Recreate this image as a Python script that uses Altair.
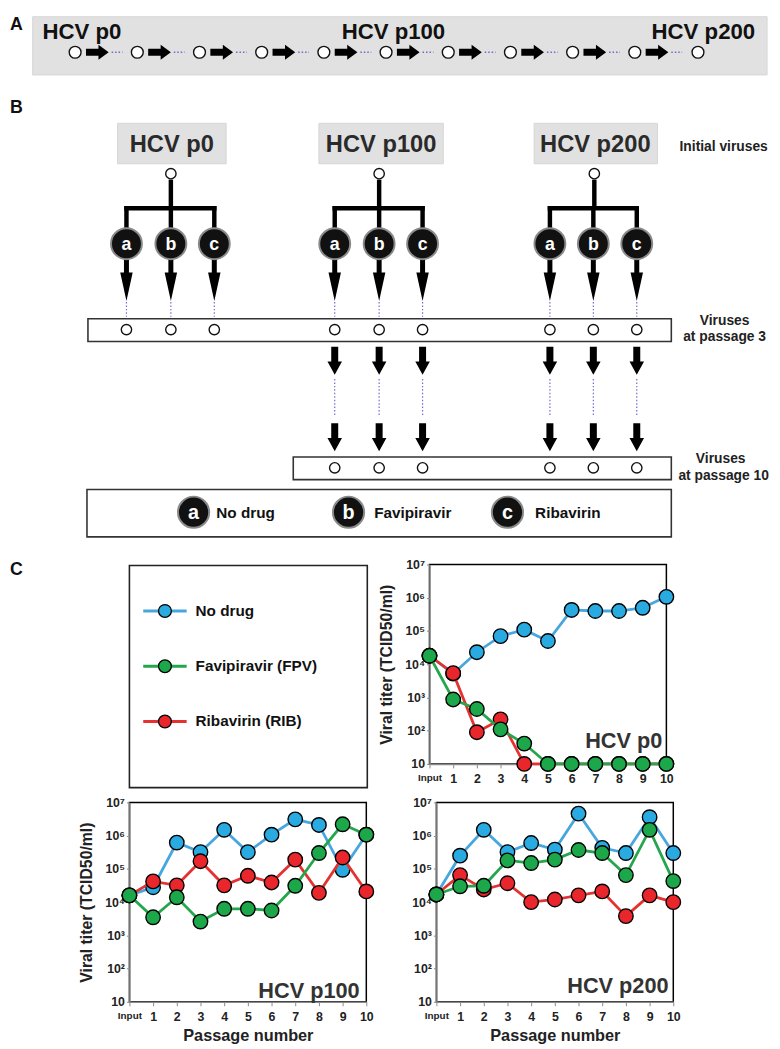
import altair as alt
import pandas as pd

FONT = "Liberation Sans"

# ---------------- Panel C values ----------------
PASSAGES = [0, 1, 2, 3, 4, 5, 6, 7, 8, 9, 10]

P0_NODRUG = [1.8e4, 5.2e3, 2.3e4, 7.0e4, 1.1e5, 5.0e4, 4.3e5, 4.0e5, 4.0e5, 5.0e5, 1.07e6]
P0_FPV = [1.8e4, 870, 450, 110, 41, 10, 10, 10, 10, 10, 10]
P0_RIB = [1.8e4, 5.4e3, 90, 220, 10, 10, 10, 10, 10, 10, 10]

P100_NODRUG = [1.6e4, 2.8e4, 6.2e5, 3.2e5, 1.5e6, 3.2e5, 1.07e6, 3.1e6, 2.1e6, 9.4e4, 1.07e6]
P100_FPV = [1.6e4, 3.5e3, 1.4e4, 2.6e3, 6.3e3, 6.3e3, 5.6e3, 3.1e4, 3.0e5, 2.2e6, 1.07e6]
P100_RIB = [1.6e4, 4.2e4, 3.2e4, 1.7e5, 3.2e4, 6.2e4, 3.9e4, 1.9e5, 1.9e4, 2.2e5, 2.1e4]

P200_NODRUG = [1.7e4, 2.5e5, 1.5e6, 3.2e5, 6.0e5, 3.8e5, 4.6e6, 4.3e5, 3.0e5, 3.6e6, 3.0e5]
P200_FPV = [1.7e4, 3.0e4, 3.1e4, 1.8e5, 1.5e5, 1.9e5, 3.7e5, 3.0e5, 6.5e4, 1.5e6, 4.3e4]
P200_RIB = [1.7e4, 6.5e4, 2.4e4, 3.7e4, 1.0e4, 1.2e4, 1.6e4, 2.1e4, 3.8e3, 1.6e4, 1.0e4]

SERIES_NAMES = ["No drug", "Ribavirin (RIB)", "Favipiravir (FPV)"]
LEGEND_ORDER = ["No drug", "Favipiravir (FPV)", "Ribavirin (RIB)"]
LINE_COLORS = {"No drug": "#47A6DD", "Favipiravir (FPV)": "#25A64D", "Ribavirin (RIB)": "#E3322F"}
FILL_COLORS = {"No drug": "#29ABE2", "Favipiravir (FPV)": "#1CA84A", "Ribavirin (RIB)": "#E8262B"}

PLOT_NAMES = ["HCV p0", "HCV p100", "HCV p200"]
PLOT_LABEL_X = [9.83, 9.72, 9.8]
PLOT_LABEL_Y = [50, 21, 30]
Y_TICKS = [10, 100, 1e3, 1e4, 1e5, 1e6, 1e7]

# ---------------- Diagram (panels A and B), figure pixel units ----------------
GRAY_X0 = [32, 118, 322, 540]
GRAY_X1 = [776, 228, 448, 665]
GRAY_Y0 = [8, 116, 116, 116]
GRAY_Y1 = [67, 157, 157, 157]

BOX_X0 = [88, 296, 87]
BOX_X1 = [679, 679, 679]
BOX_Y0 = [314, 454, 487]
BOX_Y1 = [337, 477, 535]

A_NODE_X = [75, 138, 201, 264, 327, 390, 453, 516, 579, 642, 706]
A_NODE_Y = 44
A_LABELS = ["HCV p0", "HCV p100", "HCV p200"]
A_LABEL_X = [42, 345, 659]

B_GROUP_X = [172, 383, 601]
B_BRANCH_X = [127, 172, 216, 338, 383, 427, 556, 600, 644]
B_LETTERS = ["a", "b", "c"] * 3
LATE_BRANCH_X = [338, 383, 427, 556, 600, 644]

LEG_CIRCLE_X = [195, 352, 513]
LEG_TEXT_X = [218, 378, 541]
LEG_LETTERS = ["a", "b", "c"]
LEG_TEXTS = ["No drug", "Favipiravir", "Ribavirin"]

SIDE_TEXT = ["Initial viruses", "Viruses", "at passage 3", "Viruses", "at passage 10"]
SIDE_X = [732, 733, 733, 729, 732]
SIDE_Y = [140, 316, 333, 456, 473]

PANEL_LETTERS = ["A", "B"]
PANEL_LETTER_Y = [16, 101]

ARROW_RIGHT = "M-1,-0.3L0.1,-0.3L0.1,-0.65L1,0L0.1,0.65L0.1,0.3L-1,0.3Z"
ARROW_DOWN_LONG = "M-0.12,-1L0.12,-1L0.12,-0.38L0.3,-0.38L0,1L-0.3,-0.38L-0.12,-0.38Z"
ARROW_DOWN_SHORT = "M-0.25,-1L0.25,-1L0.25,0.05L0.52,0.05L0,1L-0.52,0.05L-0.25,0.05Z"

DOT_COLOR = "#6a6ad2"

# ---------------- helpers for the pixel-unit diagram charts ----------------
def make_px(x_dom, y_dom):
    xs = alt.Scale(domain=x_dom, nice=False, zero=False)
    ys = alt.Scale(domain=y_dom, nice=False, zero=False, reverse=True)

    def X(f):
        return alt.X(f, type="quantitative", scale=xs, axis=None)

    def Y(f):
        return alt.Y(f, type="quantitative", scale=ys, axis=None)

    return X, Y


DX, DY = make_px([8, 780], [8, 554])

layers = []

gray_df = pd.DataFrame({"x0": GRAY_X0, "x1": GRAY_X1, "y0": GRAY_Y0, "y1": GRAY_Y1})
layers.append(alt.Chart(gray_df).mark_rect(fill="#e1e1e1", stroke="#d6d6d6", strokeWidth=1).encode(
    x=DX("x0"), x2="x1", y=DY("y0"), y2="y1"))

box_df = pd.DataFrame({"x0": BOX_X0, "x1": BOX_X1, "y0": BOX_Y0, "y1": BOX_Y1})
layers.append(alt.Chart(box_df).mark_rect(fill="white", stroke="#333", strokeWidth=1.6).encode(
    x=DX("x0"), x2="x1", y=DY("y0"), y2="y1"))

a_dot_df = pd.DataFrame({"x0": [x + 37 for x in A_NODE_X[:-1]], "x1": [x + 48 for x in A_NODE_X[:-1]],
                         "y": [A_NODE_Y] * (len(A_NODE_X) - 1)})
layers.append(alt.Chart(a_dot_df).mark_rule(color=DOT_COLOR, strokeWidth=1.4, strokeDash=[1.5, 2]).encode(
    x=DX("x0"), x2="x1", y=DY("y")))

b_dot_df = pd.DataFrame({
    "x": B_BRANCH_X + LATE_BRANCH_X,
    "y0": [297] * len(B_BRANCH_X) + [375] * len(LATE_BRANCH_X),
    "y1": [312] * len(B_BRANCH_X) + [412] * len(LATE_BRANCH_X)})
layers.append(alt.Chart(b_dot_df).mark_rule(color=DOT_COLOR, strokeWidth=1.2, strokeDash=[1.5, 2]).encode(
    x=DX("x"), y=DY("y0"), y2="y1"))

stem_df = pd.DataFrame({"x": B_GROUP_X, "y0": [173] * 3, "y1": [202] * 3})
layers.append(alt.Chart(stem_df).mark_rule(color="black", strokeWidth=4.5, strokeCap="butt").encode(
    x=DX("x"), y=DY("y0"), y2="y1"))
bar_df = pd.DataFrame({"x0": B_BRANCH_X[0::3], "x1": B_BRANCH_X[2::3], "y": [202] * 3})
layers.append(alt.Chart(bar_df).mark_rule(color="black", strokeWidth=4.5, strokeCap="square").encode(
    x=DX("x0"), x2="x1", y=DY("y")))
drop_df = pd.DataFrame({"x": B_BRANCH_X, "y0": [202] * 9, "y1": [226] * 9})
layers.append(alt.Chart(drop_df).mark_rule(color="black", strokeWidth=4.5, strokeCap="square").encode(
    x=DX("x"), y=DY("y0"), y2="y1"))

a_arrow_df = pd.DataFrame({"x": [x + 22.5 for x in A_NODE_X[:-1]], "y": [A_NODE_Y] * (len(A_NODE_X) - 1)})
layers.append(alt.Chart(a_arrow_df).mark_point(shape=ARROW_RIGHT, size=529, filled=True, fill="black",
                                               strokeWidth=0, opacity=1).encode(x=DX("x"), y=DY("y")))
b_arrow_df = pd.DataFrame({"x": B_BRANCH_X, "y": [275] * 9})
layers.append(alt.Chart(b_arrow_df).mark_point(shape=ARROW_DOWN_LONG, size=1764, filled=True, fill="black",
                                               strokeWidth=0, opacity=1).encode(x=DX("x"), y=DY("y")))
late_arrow_df = pd.DataFrame({"x": LATE_BRANCH_X * 2, "y": [356.5] * 6 + [434] * 6})
layers.append(alt.Chart(late_arrow_df).mark_point(shape=ARROW_DOWN_SHORT, size=800, filled=True, fill="black",
                                                  strokeWidth=0, opacity=1).encode(x=DX("x"), y=DY("y")))

open_df = pd.DataFrame({
    "x": A_NODE_X + B_GROUP_X + B_BRANCH_X + LATE_BRANCH_X,
    "y": [A_NODE_Y] * len(A_NODE_X) + [167] * 3 + [325] * 9 + [465] * 6,
    "sz": [144] * len(A_NODE_X) + [110] * (3 + 9 + 6)})
layers.append(alt.Chart(open_df).mark_point(shape="circle", filled=True, fill="white", stroke="#111",
                                            strokeWidth=1.4, opacity=1).encode(
    x=DX("x"), y=DY("y"), size=alt.Size("sz:Q", scale=None, legend=None)))

drug_df = pd.DataFrame({"x": B_BRANCH_X + LEG_CIRCLE_X, "y": [238] * 9 + [510] * 3,
                        "sz": [980] * 9 + [1000] * 3})
layers.append(alt.Chart(drug_df).mark_point(shape="circle", filled=True, fill="#111", stroke="#8a8a8a",
                                            strokeWidth=2, opacity=1).encode(
    x=DX("x"), y=DY("y"), size=alt.Size("sz:Q", scale=None, legend=None)))

letter_df = pd.DataFrame({"x": B_BRANCH_X, "y": [239] * 9, "t": B_LETTERS})
layers.append(alt.Chart(letter_df).mark_text(font=FONT, fontSize=18, fontWeight="bold", color="white",
                                             align="center", baseline="middle").encode(
    x=DX("x"), y=DY("y"), text="t:N"))
leg_letter_df = pd.DataFrame({"x": LEG_CIRCLE_X, "y": [511] * 3, "t": LEG_LETTERS})
layers.append(alt.Chart(leg_letter_df).mark_text(font=FONT, fontSize=20, fontWeight="bold", color="white",
                                                 align="center", baseline="middle").encode(
    x=DX("x"), y=DY("y"), text="t:N"))
leg_text_df = pd.DataFrame({"x": LEG_TEXT_X, "y": [511] * 3, "t": LEG_TEXTS})
layers.append(alt.Chart(leg_text_df).mark_text(font=FONT, fontSize=15.5, fontWeight="bold", color="#111",
                                               align="left", baseline="middle").encode(
    x=DX("x"), y=DY("y"), text="t:N"))
a_lab_df = pd.DataFrame({"x": A_LABEL_X, "y": [24] * 3, "t": A_LABELS})
layers.append(alt.Chart(a_lab_df).mark_text(font=FONT, fontSize=22.5, fontWeight="bold", color="#111",
                                            align="left", baseline="middle").encode(
    x=DX("x"), y=DY("y"), text="t:N"))
b_lab_df = pd.DataFrame({"x": [173, 385, 602], "y": [138] * 3, "t": A_LABELS})
layers.append(alt.Chart(b_lab_df).mark_text(font=FONT, fontSize=24, fontWeight="bold", color="#2a2a2a",
                                            align="center", baseline="middle").encode(
    x=DX("x"), y=DY("y"), text="t:N"))
side_df = pd.DataFrame({"x": SIDE_X, "y": SIDE_Y, "t": SIDE_TEXT})
layers.append(alt.Chart(side_df).mark_text(font=FONT, fontSize=14, fontWeight="bold", color="#222",
                                           align="center", baseline="middle").encode(
    x=DX("x"), y=DY("y"), text="t:N"))
panel_df = pd.DataFrame({"x": [9, 9], "y": PANEL_LETTER_Y, "t": PANEL_LETTERS})
layers.append(alt.Chart(panel_df).mark_text(font=FONT, fontSize=18, fontWeight="bold", color="#111",
                                            align="left", baseline="middle").encode(
    x=DX("x"), y=DY("y"), text="t:N"))

diagram = alt.layer(*layers).properties(width=772, height=546)

# ---------------- Panel C legend box ----------------
LX, LY = make_px([8, 376], [564, 796])
LEG_Y = [611, 667, 723]
key_layers = []
key_layers.append(alt.Chart(pd.DataFrame({"x0": [130], "x1": [371], "y0": [565], "y1": [790]})).mark_rect(
    fill="white", stroke="#222", strokeWidth=1.6).encode(x=LX("x0"), x2="x1", y=LY("y0"), y2="y1"))
key_df = pd.DataFrame({"s": LEGEND_ORDER, "x0": [144] * 3, "x1": [188] * 3, "xc": [166] * 3,
                       "xt": [197] * 3, "y": LEG_Y})
key_layers.append(alt.Chart(key_df).mark_rule(strokeWidth=3).encode(
    x=LX("x0"), x2="x1", y=LY("y"),
    color=alt.Color("s:N", scale=alt.Scale(domain=LEGEND_ORDER, range=[LINE_COLORS[s] for s in LEGEND_ORDER]),
                    legend=None)))
key_layers.append(alt.Chart(key_df).mark_point(shape="circle", filled=True, size=169, stroke="black",
                                               strokeWidth=1.3, opacity=1).encode(
    x=LX("xc"), y=LY("y"),
    fill=alt.Fill("s:N", scale=alt.Scale(domain=LEGEND_ORDER, range=[FILL_COLORS[s] for s in LEGEND_ORDER]),
                  legend=None)))
key_layers.append(alt.Chart(key_df).mark_text(font=FONT, fontSize=15.5, fontWeight="bold", color="#111",
                                              align="left", baseline="middle").encode(
    x=LX("xt"), y=LY("y"), text="s:N"))
key_layers.append(alt.Chart(pd.DataFrame({"x": [9], "y": [570], "t": ["C"]})).mark_text(
    font=FONT, fontSize=18, fontWeight="bold", color="#111", align="left", baseline="middle").encode(
    x=LX("x"), y=LY("y"), text="t:N"))
key_chart = alt.layer(*key_layers).properties(width=368, height=232)

# ---------------- titer plots ----------------
SUP = ("datum.value >= 5000000 ? '10\u2077' : datum.value >= 500000 ? '10\u2076' : "
       "datum.value >= 50000 ? '10\u2075' : datum.value >= 5000 ? '10\u2074' : "
       "datum.value >= 500 ? '10\u00b3' : datum.value >= 50 ? '10\u00b2' : '10'")


def titer_plot(idx, nodrug, fpv, rib, y_title, x_title):
    xs = alt.Scale(domain=[0, 10], nice=False, zero=False)
    ys = alt.Scale(type="log", domain=[10, 1e7], nice=False)
    xaxis = alt.Axis(values=PASSAGES, labelExpr="datum.value == 0 ? 'Input' : datum.label",
                     labelFontSize={"condition": {"test": "datum.value == 0", "value": 10}, "value": 12.5},
                     labelFontWeight="bold", labelColor="#222", labelFlush=False, labelOverlap=False,
                     tickSize=4, tickColor="#8a8a8a", domainColor="#8a8a8a", domainWidth=1.5,
                     labelPadding=5, grid=False, title=x_title, titleFontSize=16.5,
                     titleFontWeight="bold", titlePadding=5, titleColor="#222")
    yaxis = alt.Axis(values=Y_TICKS, labelExpr=SUP, labelFontSize=12.5, labelFontWeight="bold",
                     labelColor="#222", labelFlush=False, labelOverlap=False, tickSize=3,
                     tickColor="#8a8a8a", domainColor="#8a8a8a", domainWidth=1.5, labelPadding=2,
                     grid=False, minExtent=27, maxExtent=27, title=y_title, titleFontSize=16,
                     titleFontWeight="bold", titlePadding=8, titleColor="#222")
    values = {"No drug": nodrug, "Favipiravir (FPV)": fpv, "Ribavirin (RIB)": rib}
    rows = []
    for s in SERIES_NAMES:
        for p, v in zip(PASSAGES, values[s]):
            rows.append({"series": s, "passage": p, "titer": v})
    df = pd.DataFrame(rows)
    base = alt.Chart(df)
    parts = []
    for s in SERIES_NAMES:
        sub = base.transform_filter(alt.datum.series == s)
        parts.append(sub.mark_line(color=LINE_COLORS[s], strokeWidth=2.8).encode(
            x=alt.X("passage:Q", scale=xs, axis=xaxis), y=alt.Y("titer:Q", scale=ys, axis=yaxis)))
        parts.append(sub.mark_point(shape="circle", filled=True, fill=FILL_COLORS[s], stroke="black",
                                    strokeWidth=1.4, size=215, opacity=1).encode(
            x=alt.X("passage:Q", scale=xs, axis=xaxis), y=alt.Y("titer:Q", scale=ys, axis=yaxis)))
    lab = pd.DataFrame({"passage": [PLOT_LABEL_X[idx]], "titer": [PLOT_LABEL_Y[idx]], "t": [PLOT_NAMES[idx]]})
    parts.append(alt.Chart(lab).mark_text(font=FONT, fontSize=22, fontWeight="bold", color="#333",
                                          align="right", baseline="middle").encode(
        x=alt.X("passage:Q", scale=xs, axis=xaxis), y=alt.Y("titer:Q", scale=ys, axis=yaxis), text="t:N"))
    return alt.layer(*parts).properties(width=240, height=202,
                                        view=alt.ViewBackground(stroke="black", strokeWidth=1.5))


p0 = titer_plot(0, P0_NODRUG, P0_FPV, P0_RIB, "Viral titer (TCID50/ml)", None)
p100 = titer_plot(1, P100_NODRUG, P100_FPV, P100_RIB, "Viral titer (TCID50/ml)", "Passage number")
p200 = titer_plot(2, P200_NODRUG, P200_FPV, P200_RIB, None, "Passage number")

spacer = alt.Chart(pd.DataFrame({"v": [0]})).mark_rect(opacity=0).encode(
    x=alt.value(0), x2=alt.value(37), y=alt.value(0), y2=alt.value(2)).properties(width=37, height=2)

row2 = alt.hconcat(key_chart, p0, spacing=5)
row3 = alt.hconcat(spacer, p100, p200, spacing=32)

chart = alt.vconcat(diagram, row2, row3, spacing=1).properties(
    padding=0, background="white"
).configure(font=FONT).configure_view(stroke="transparent")

chart.save("out.html", embed_options={"renderer": "svg", "actions": False})
